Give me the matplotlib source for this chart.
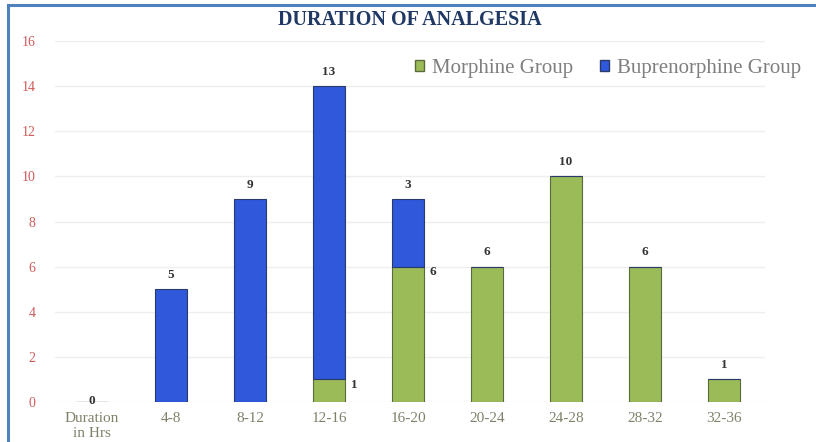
import matplotlib
matplotlib.use("Agg")
import matplotlib.pyplot as plt
from matplotlib.lines import Line2D
from matplotlib.patches import Patch

categories = ["Duration\nin Hrs", "4-8", "8-12", "12-16", "16-20", "20-24", "24-28", "28-32", "32-36"]
morphine = [0, 0, 0, 1, 6, 6, 10, 6, 1]
buprenorphine = [0, 5, 9, 13, 3, 0, 0, 0, 0]
yticks = [0, 2, 4, 6, 8, 10, 12, 14, 16]

green = "#9BBB59"
blue = "#2F58DA"
serif = ["Liberation Serif", "DejaVu Serif"]

fig = plt.figure(figsize=(8.16, 4.42), dpi=100)
ax = fig.add_axes([0.0674, 0.0905, 0.8701, 0.8167])
x = list(range(len(categories)))
w = 0.41

ax.bar(x, morphine, width=w, color=green, edgecolor="#5a6a3a", linewidth=0.8, zorder=3)
ax.bar(x, buprenorphine, width=w, bottom=morphine, color=blue, edgecolor="#2a3a6a", linewidth=0.8, zorder=3)

# value labels
for i, (m, b) in enumerate(zip(morphine, buprenorphine)):
    if b > 0:
        ax.annotate(str(b), (i, m + b), xytext=(0, 6), textcoords="offset points",
                    ha="center", va="bottom", fontsize=9.5, fontweight="bold",
                    family=serif, color="#333333")
        if m > 0:
            ax.annotate(str(m), (i + w / 2, m), xytext=(4, -4), textcoords="offset points",
                        ha="left", va="center", fontsize=9.5, fontweight="bold",
                        family=serif, color="#333333")
    elif m > 0:
        ax.annotate(str(m), (i, m), xytext=(0, 6), textcoords="offset points",
                    ha="center", va="bottom", fontsize=9.5, fontweight="bold",
                    family=serif, color="#333333")
    else:
        ax.annotate(str(m), (i, 0), xytext=(0, 1), textcoords="offset points",
                    ha="center", va="center", fontsize=9.5, fontweight="bold",
                    family=serif, color="#333333", zorder=5)

ax.set_xlim(-0.47, 8.52)
ax.set_ylim(0, 16)
ax.set_yticks(yticks)
ax.set_yticklabels([str(v) for v in yticks], family=serif, fontsize=10, color="#D05A5A")
ax.set_xticks(x)
ax.set_xticklabels(categories, family=serif, fontsize=11, color="#80806A", linespacing=1.2)
ax.tick_params(axis="both", length=0)
ax.tick_params(axis="x", pad=7)
ax.tick_params(axis="y", pad=14)
ax.grid(axis="y", color="#EEEEEE", linewidth=1, zorder=0)
for s in ax.spines.values():
    s.set_visible(False)

fig.text(0.502, 0.955, "DURATION OF ANALGESIA", ha="center", va="center",
         family=serif, fontweight="bold", fontsize=14.5, color="#1F3864")

handles = [Patch(facecolor=green, edgecolor="#5a6a3a", label="Morphine Group"),
           Patch(facecolor=blue, edgecolor="#2a3a6a", label="Buprenorphine Group")]
fig.legend(handles=handles, loc="center", bbox_to_anchor=(0.745, 0.846), ncol=2,
           frameon=False, prop={"family": serif, "size": 15}, labelcolor="#7F7F7F",
           handlelength=0.45, handleheight=0.45, handletextpad=0.35, columnspacing=1.3)

# blue frame lines (top and left)
fig.add_artist(Line2D([0.010, 0.010], [0.0, 0.989], transform=fig.transFigure, color="#4F81BD", linewidth=2.2))
fig.add_artist(Line2D([0.010, 1.0], [0.989, 0.989], transform=fig.transFigure, color="#4F81BD", linewidth=2.2))

fig.savefig("out.png", dpi=100, facecolor="white")
